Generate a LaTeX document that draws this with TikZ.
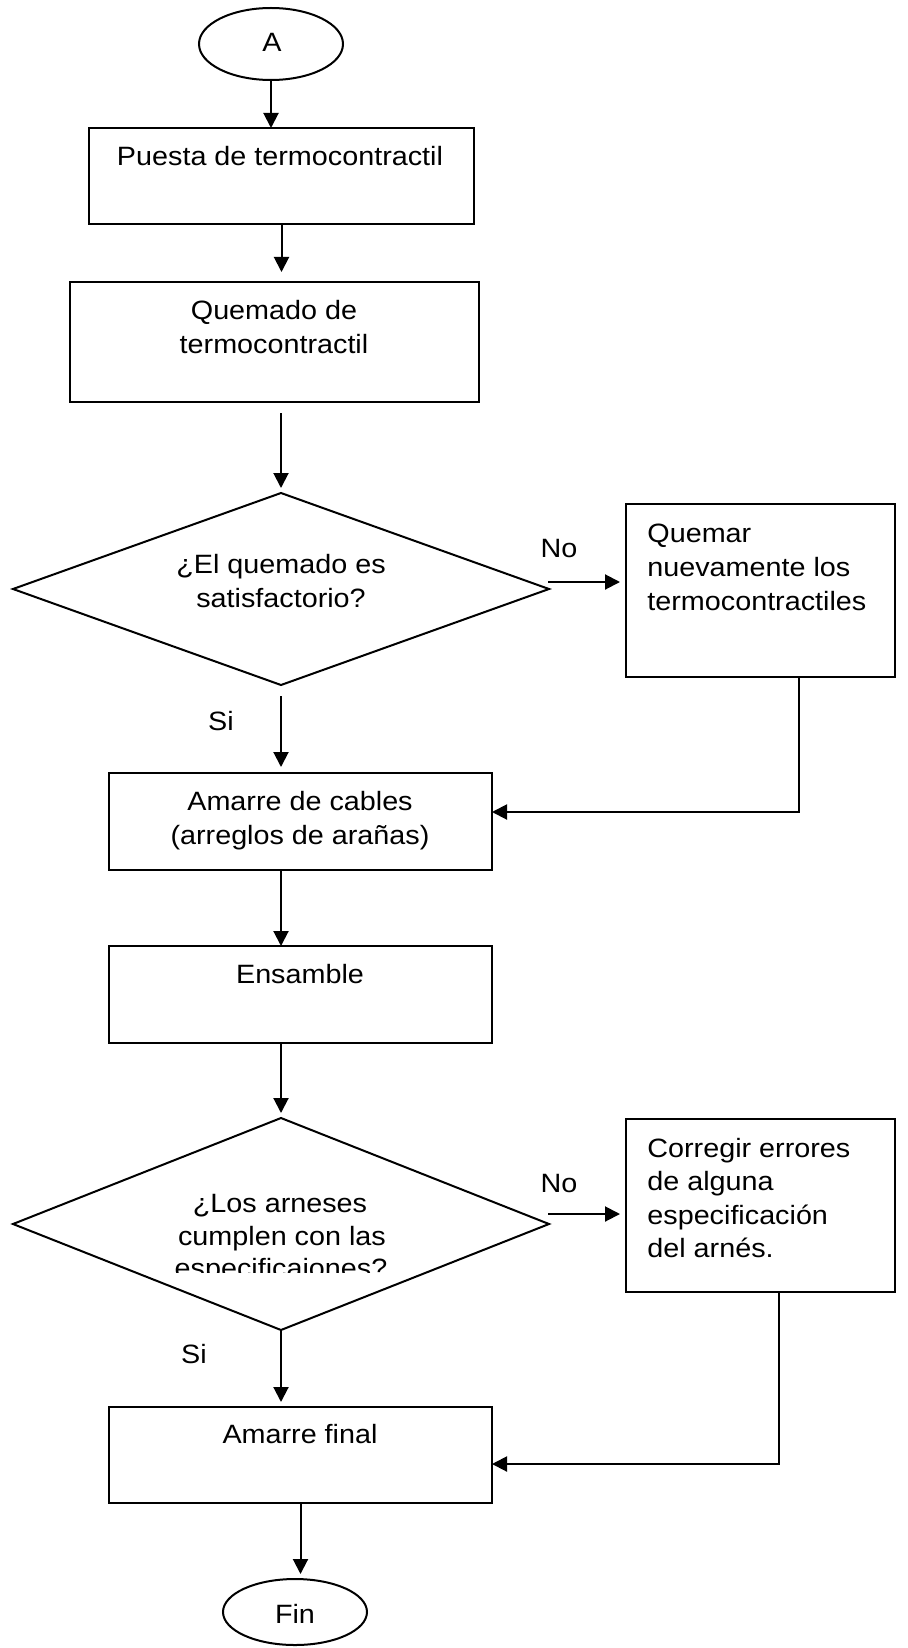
\documentclass[tikz,border=0pt]{standalone}
\usepackage{fontspec}
\setmainfont{Liberation Sans}[FakeStretch=1.085]
\usetikzlibrary{shapes.geometric,arrows.meta,calc}
\begin{document}
\begin{tikzpicture}[x=0.5pt,y=-0.5pt,
  every node/.style={font=\fontsize{13.25}{15.5}\selectfont},
  shp/.style={draw,line width=1pt,inner sep=0pt,outer sep=0pt},
  box/.style={shp,rectangle},
  oval/.style={shp,ellipse},
  dec/.style={shp,diamond},
  txt/.style={inner sep=0pt,anchor=base},
  ltxt/.style={inner sep=0pt,anchor=base west},
  arr/.style={line width=1pt,-{Triangle[length=7.5pt,width=7.5pt]}}]
\fill[white] (0,0) rectangle (908,1648);
\useasboundingbox (0,0) rectangle (908,1648);

% shapes
\node[oval,minimum width=72pt,minimum height=36pt] (A) at (271,44) {};
\node[txt] (tA) at (272,52) {A};

\node[box,minimum width=192.5pt,minimum height=48pt] (B1) at (281.5,176) {};
\node[txt] (t1) at (280,166) {Puesta de termocontractil};

\node[box,minimum width=204.5pt,minimum height=60pt] (B2) at (274.5,342) {};
\node[txt] (t2a) at (274,319) {Quemado de};
\node[txt] (t2b) at (274,353) {termocontractil};

\node[dec,minimum width=268pt,minimum height=96pt] (D1) at (281,589) {};
\node[txt] (t3a) at (281,573) {¿El quemado es};
\node[txt] (t3b) at (281,607) {satisfactorio?};

\node[box,minimum width=134.5pt,minimum height=86.5pt] (B3) at (760.5,590.5) {};
\node[ltxt] (t4a) at (647,542) {Quemar};
\node[ltxt] (t4b) at (647,576) {nuevamente los};
\node[ltxt] (t4c) at (647,610) {termocontractiles};

\node[txt] (no1) at (559,557) {No};
\node[txt] (si1) at (221,730) {Si};

\node[box,minimum width=191.5pt,minimum height=48.5pt] (B4) at (300.5,821.5) {};
\node[txt] (t5a) at (300,810) {Amarre de cables};
\node[txt] (t5b) at (300,844) {(arreglos de arañas)};

\node[box,minimum width=191.5pt,minimum height=48.5pt] (B5) at (300.5,994.5) {};
\node[txt] (t6) at (300,983) {Ensamble};

\node[dec,minimum width=268pt,minimum height=106pt] (D2) at (281,1224) {};
\node[txt] (t7a) at (280,1212) {¿Los arneses};
\node[txt] (t7b) at (282,1245) {cumplen con las};
\begin{scope}
  \clip (0,1100) rectangle (908,1272);
  \node[txt] (t7c) at (281,1277) {especificaiones?};
\end{scope}

\node[box,minimum width=134.5pt,minimum height=86.5pt] (B6) at (760.5,1205.5) {};
\node[ltxt] (t8a) at (647,1157) {Corregir errores};
\node[ltxt] (t8b) at (647,1190.5) {de alguna};
\node[ltxt] (t8c) at (647,1224) {especificación};
\node[ltxt] (t8d) at (647,1257) {del arnés.};

\node[txt] (no2) at (559,1192) {No};
\node[txt] (si2) at (194,1363) {Si};

\node[box,minimum width=191.5pt,minimum height=48pt] (B7) at (300.5,1455) {};
\node[txt] (t9) at (300,1443) {Amarre final};

\node[oval,minimum width=72pt,minimum height=33pt] (Fin) at (295,1612) {};
\node[txt] (tFin) at (295,1623) {Fin};

% connectors
\draw[arr] (A.south) -- (A.south |- B1.north);
\draw[arr,shorten >=5pt] (B1.south) -- (B1.south |- B2.north);
\draw[arr,shorten <=5.5pt,shorten >=2.5pt] (D1.north |- B2.south) -- (D1.north);
\coordinate (n1) at ($(D1.east)+(-1,-7)$);
\draw[arr,shorten >=3pt] (n1) -- (n1 -| B3.west);
\coordinate (r1) at ($(B3.south)+(38.5,0)$);
\coordinate (e1) at ($(B4.east)+(0,-9.5)$);
\draw[arr] (r1) |- (e1);
\draw[arr,shorten <=5.5pt,shorten >=3pt] (D1.south) -- (D1.south |- B4.north);
\draw[arr] (D1.south |- B4.south) -- (D1.south |- B5.north);
\draw[arr,shorten >=2.5pt] (D2.north |- B5.south) -- (D2.north);
\coordinate (n2) at ($(D2.east)+(-1,-10)$);
\draw[arr,shorten >=3pt] (n2) -- (n2 -| B6.west);
\coordinate (r2) at ($(B6.south)+(18.5,0)$);
\coordinate (e2) at ($(B7.east)+(0,9)$);
\draw[arr] (r2) |- (e2);
\draw[arr,shorten >=2.5pt] (D2.south) -- (D2.south |- B7.north);
\draw[arr,shorten >=2.5pt] (B7.south) -- (B7.south |- Fin.north);
\end{tikzpicture}
\end{document}
